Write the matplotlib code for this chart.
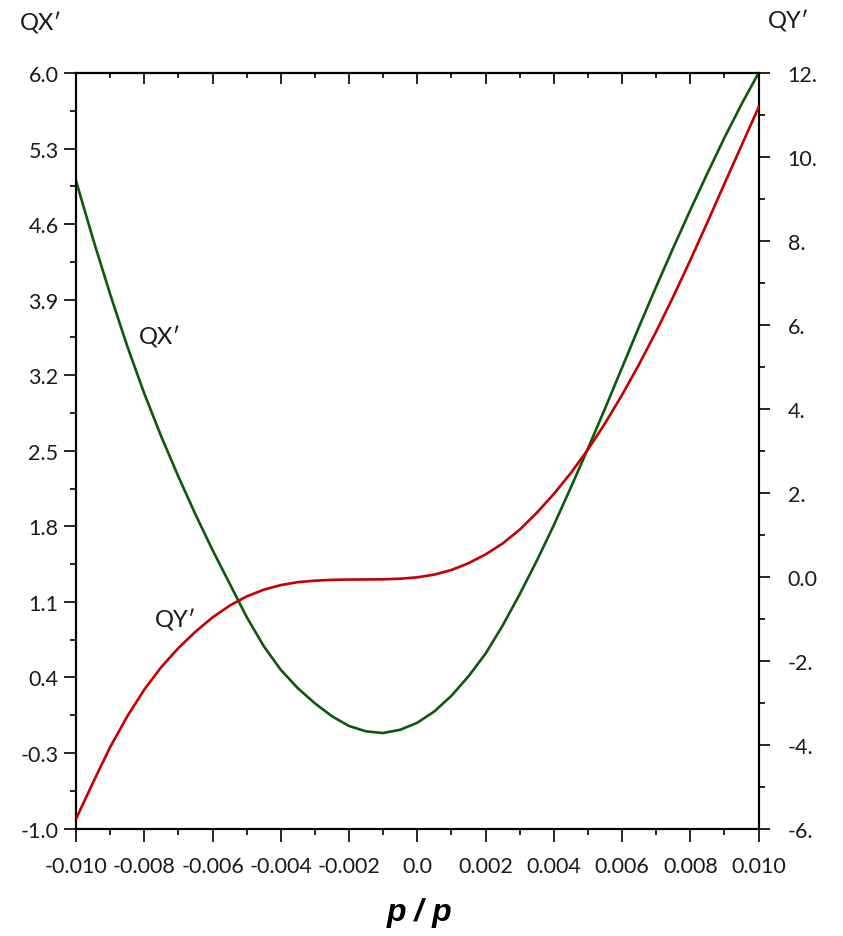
import matplotlib
matplotlib.use("Agg")
import matplotlib.pyplot as plt

plt.rcParams['font.family'] = ['Lato', 'DejaVu Sans']

# momentum deviation dp/p
delta = [-0.0100, -0.0095, -0.0090, -0.0085, -0.0080, -0.0075, -0.0070, -0.0065,
         -0.0060, -0.0055, -0.0050, -0.0045, -0.0040, -0.0035, -0.0030, -0.0025,
         -0.0020, -0.0015, -0.0010, -0.0005, 0.0000, 0.0005, 0.0010, 0.0015,
         0.0020, 0.0025, 0.0030, 0.0035, 0.0040, 0.0045, 0.0050, 0.0055,
         0.0060, 0.0065, 0.0070, 0.0075, 0.0080, 0.0085, 0.0090, 0.0095, 0.0100]

# QX' (left axis)
qx = [5.00, 4.46, 3.95, 3.47, 3.03, 2.63, 2.26, 1.91, 1.58, 1.27, 0.96, 0.69,
      0.47, 0.30, 0.16, 0.04, -0.05, -0.10, -0.115, -0.085, -0.02, 0.085, 0.23,
      0.41, 0.62, 0.88, 1.17, 1.48, 1.81, 2.16, 2.52, 2.89, 3.27, 3.65, 4.02,
      4.38, 4.73, 5.07, 5.40, 5.71, 6.00]

# QY' (right axis)
qy = [-5.77, -4.90, -4.06, -3.33, -2.69, -2.15, -1.70, -1.31, -0.97, -0.69,
      -0.47, -0.31, -0.20, -0.13, -0.095, -0.075, -0.068, -0.066, -0.062, -0.048,
      -0.015, 0.05, 0.16, 0.32, 0.53, 0.79, 1.12, 1.52, 1.97, 2.47, 3.03, 3.65,
      4.33, 5.06, 5.84, 6.67, 7.54, 8.44, 9.36, 10.27, 11.18]

x_ticks = [-0.010, -0.008, -0.006, -0.004, -0.002, 0.0, 0.002, 0.004, 0.006, 0.008, 0.010]
x_labels = ['-0.010', '-0.008', '-0.006', '-0.004', '-0.002', '0.0',
            '0.002', '0.004', '0.006', '0.008', '0.010']
x_minor = [-0.009, -0.007, -0.005, -0.003, -0.001, 0.001, 0.003, 0.005, 0.007, 0.009]

qx_ticks = [-1.0, -0.3, 0.4, 1.1, 1.8, 2.5, 3.2, 3.9, 4.6, 5.3, 6.0]
qx_labels = ['-1.0', '-0.3', '0.4', '1.1', '1.8', '2.5', '3.2', '3.9', '4.6', '5.3', '6.0']
qx_minor = [-0.65, 0.05, 0.75, 1.45, 2.15, 2.85, 3.55, 4.25, 4.95, 5.65]

qy_ticks = [-6, -4, -2, 0, 2, 4, 6, 8, 10, 12]
qy_labels = ['-6.', '-4.', '-2.', '0.0', '2.', '4.', '6.', '8.', '10.', '12.']
qy_minor = [-5, -3, -1, 1, 3, 5, 7, 9, 11]

green = '#0b5a0b'
red = '#c40000'
txt = '#1a1a1a'
fs = 15.5

fig = plt.figure(figsize=(8.43, 9.37), dpi=100)
ax = fig.add_axes([0.0902, 0.1147, 0.8096, 0.8063])
ax2 = ax.twinx()

ax.plot(delta, qx, color=green, lw=1.9, zorder=3)
ax2.plot(delta, qy, color=red, lw=1.9, zorder=3)

ax.set_xlim(-0.010, 0.010)
ax.set_ylim(-1.0, 6.0)
ax2.set_ylim(-6, 12)

for a in (ax, ax2):
    for s in a.spines.values():
        s.set_linewidth(1.5)

ax.set_xticks(x_ticks)
ax.set_xticklabels(x_labels)
ax.set_xticks(x_minor, minor=True)
ax.set_yticks(qx_ticks)
ax.set_yticklabels(qx_labels)
ax.set_yticks(qx_minor, minor=True)
ax.tick_params(axis='x', which='major', direction='out', length=9, width=1.2,
               pad=11, labelsize=fs, labelcolor=txt)
ax.tick_params(axis='x', which='minor', direction='out', length=4, width=1.2)
ax.tick_params(axis='y', which='major', direction='out', length=9, width=1.2,
               pad=3.6, labelsize=fs, labelcolor=txt)
ax.tick_params(axis='y', which='minor', direction='out', length=4, width=1.2)

ax2.set_yticks(qy_ticks)
ax2.set_yticklabels(qy_labels)
ax2.set_yticks(qy_minor, minor=True)
ax2.tick_params(axis='y', which='major', direction='out', length=8, width=1.2,
                pad=13, labelsize=fs, labelcolor=txt)
ax2.tick_params(axis='y', which='minor', direction='out', length=4, width=1.2)

top = ax.secondary_xaxis('top')
top.set_xticks(x_ticks)
top.set_xticks(x_minor, minor=True)
top.tick_params(axis='x', which='major', direction='in', length=8, width=1.2, labeltop=False)
top.tick_params(axis='x', which='minor', direction='in', length=3.5, width=1.2)
top.spines['top'].set_linewidth(1.5)

ax.text(0.123, 0.6506, 'QX\u2032', transform=ax.transAxes, ha='center', va='center',
        fontsize=17, color=txt)
ax.text(0.1465, 0.2773, 'QY\u2032', transform=ax.transAxes, ha='center', va='center',
        fontsize=17, color=txt)

fig.text(41 / 843, 1 - 24 / 937, 'QX\u2032', ha='center', va='center', fontsize=17, color=txt)
fig.text(789 / 843, 1 - 21 / 937, 'QY\u2032', ha='center', va='center', fontsize=17, color=txt)
fig.text(420 / 843, 1 - 913 / 937, 'p / p', ha='center', va='center', fontsize=23,
         fontweight='bold', fontstyle='italic', family='Liberation Sans', color='black')

fig.savefig('out.png', dpi=100)
